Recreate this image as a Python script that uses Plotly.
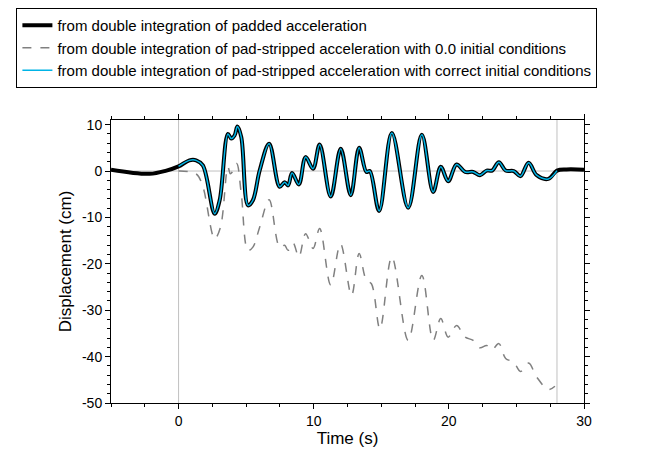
import plotly.graph_objects as go

# padded-acceleration displacement (also pad-stripped with correct ICs inside 0..28 s)
t_pad = [-5, -2.15, -0.9, 0, 0.8, 1.3, 1.8, 2.67, 3.04, 3.65, 3.9, 4.15, 4.35, 4.64, 5.14, 5.5, 6.0, 6.7,
         7.48, 7.85, 8.1, 8.4, 8.9, 9.4, 9.95, 10.44, 11.26, 12.0, 12.74, 13.36, 13.9, 14.15, 14.84, 15.78,
         16.99, 18.0, 18.84, 19.4, 19.95, 20.57, 21.2, 21.8, 22.3, 22.8, 23.2, 23.7, 24.2, 24.8, 25.3, 25.9,
         26.5, 27.36, 28.0, 28.7, 30]
d_pad = [0.3, -0.6, 0.1, 1.0, 2.3, 2.3, 1.2, -9.2, -6.3, 8.0, 7.0, 7.7, 9.6, 7.3, -7.4, -6.3, 0.1, 5.9,
         -3.4, -2.4, -3.1, -0.4, -2.9, 3.0, 0.5, 5.7, -5.5, 4.8, -5.2, 5.0, -0.2, 0.0, -8.6, 8.2,
         -7.9, 7.8, -4.5, 0.9, -2.2, 1.4, -0.2, -0.2, -0.9, 0.1, 0.1, 1.9, 0.1, 0.0, -1.1, 1.8,
         -0.9, -1.7, 0.1, 0.35, 0.3]

t_zero = [0, 1.3, 1.8, 2.67, 3.1, 3.65, 3.83, 4.0, 4.3, 4.64, 5.14, 5.5, 6.0, 6.7, 7.48, 7.85, 8.1, 8.47,
          8.9, 9.4, 9.95, 10.44, 11.26, 11.98, 12.8, 13.36, 13.9, 14.27, 14.9, 15.78, 16.99, 18.0, 18.84,
          19.4, 19.95, 20.57, 21.2, 21.8, 22.3, 22.8, 23.2, 23.7, 24.2, 24.8, 25.3, 25.9, 26.5, 27.36, 27.85]
d_zero = [0, -0.6, -3.4, -14.6, -12.1, 0.9, -0.6, -0.1, 1.6, -4.9, -17.1, -16.4, -12.1, -6.2, -16.4, -16.0,
          -17.1, -15.5, -18.5, -13.5, -16.7, -12.4, -24.6, -15.7, -26.8, -17.8, -23.6, -24.3, -34.0, -18.5,
          -36.5, -22.5, -36.5, -31.8, -35.8, -33.3, -35.8, -36.5, -38.1, -37.6, -38.5, -37.2, -40.4, -41.2,
          -43.2, -41.4, -44.4, -47.1, -46.4]

t_corr = [t for t in t_pad if 0 <= t <= 28]
d_corr = [d for t, d in zip(t_pad, d_pad) if 0 <= t <= 28]

x_ticks = [0, 10, 20, 30]
y_ticks = [10, 0, -10, -20, -30, -40, -50]

fig = go.Figure()
fig.add_trace(go.Scatter(x=t_pad, y=d_pad, mode="lines", line=dict(color="black", width=4, shape="spline"),
                         name="from double integration of padded acceleration"))
fig.add_trace(go.Scatter(x=t_zero, y=d_zero, mode="lines",
                         line=dict(color="gray", width=1.5, dash="dash", shape="spline"),
                         name="from double integration of pad-stripped acceleration with 0.0 initial conditions"))
fig.add_trace(go.Scatter(x=t_corr, y=d_corr, mode="lines", line=dict(color="#00b4e6", width=1.5, shape="spline"),
                         name="from double integration of pad-stripped acceleration with correct initial conditions"))

for xv in [0, 28]:
    fig.add_shape(type="line", x0=xv, x1=xv, y0=0, y1=1, yref="paper", layer="below",
                  line=dict(color="#c0c0c0", width=1))
fig.add_shape(type="line", x0=0, x1=1, xref="paper", y0=0, y1=0, layer="below",
              line=dict(color="#c0c0c0", width=1))

ax = dict(showline=True, linecolor="black", linewidth=1, mirror="ticks", ticks="outside", ticklen=5,
          tickcolor="black", showgrid=False, zeroline=False, automargin=False,
          minor=dict(ticks="outside", ticklen=3, tickcolor="black"))
fig.update_xaxes(range=[-5, 30], tickvals=x_ticks, ticktext=[str(v) for v in x_ticks],
                 title=dict(text="Time (s)", standoff=0), minor_dtick=2.5, minor_tick0=0, **ax)
fig.update_yaxes(range=[-50, 11], tickvals=y_ticks, ticktext=[str(v) for v in y_ticks],
                 title=dict(text="Displacement (cm)", standoff=6), minor_dtick=2, minor_tick0=0, **ax)
fig.update_layout(
    width=653, height=456, plot_bgcolor="white", paper_bgcolor="white",
    font=dict(family="Arial, Liberation Sans", size=14, color="black"),
    margin=dict(l=103, r=77, t=112, b=61, autoexpand=False),
    legend=dict(x=-0.2, y=1.396, xanchor="left", yanchor="top", bordercolor="black", borderwidth=1,
                font=dict(size=15), tracegroupgap=0, itemwidth=30),
)
fig.write_html("out.html")
